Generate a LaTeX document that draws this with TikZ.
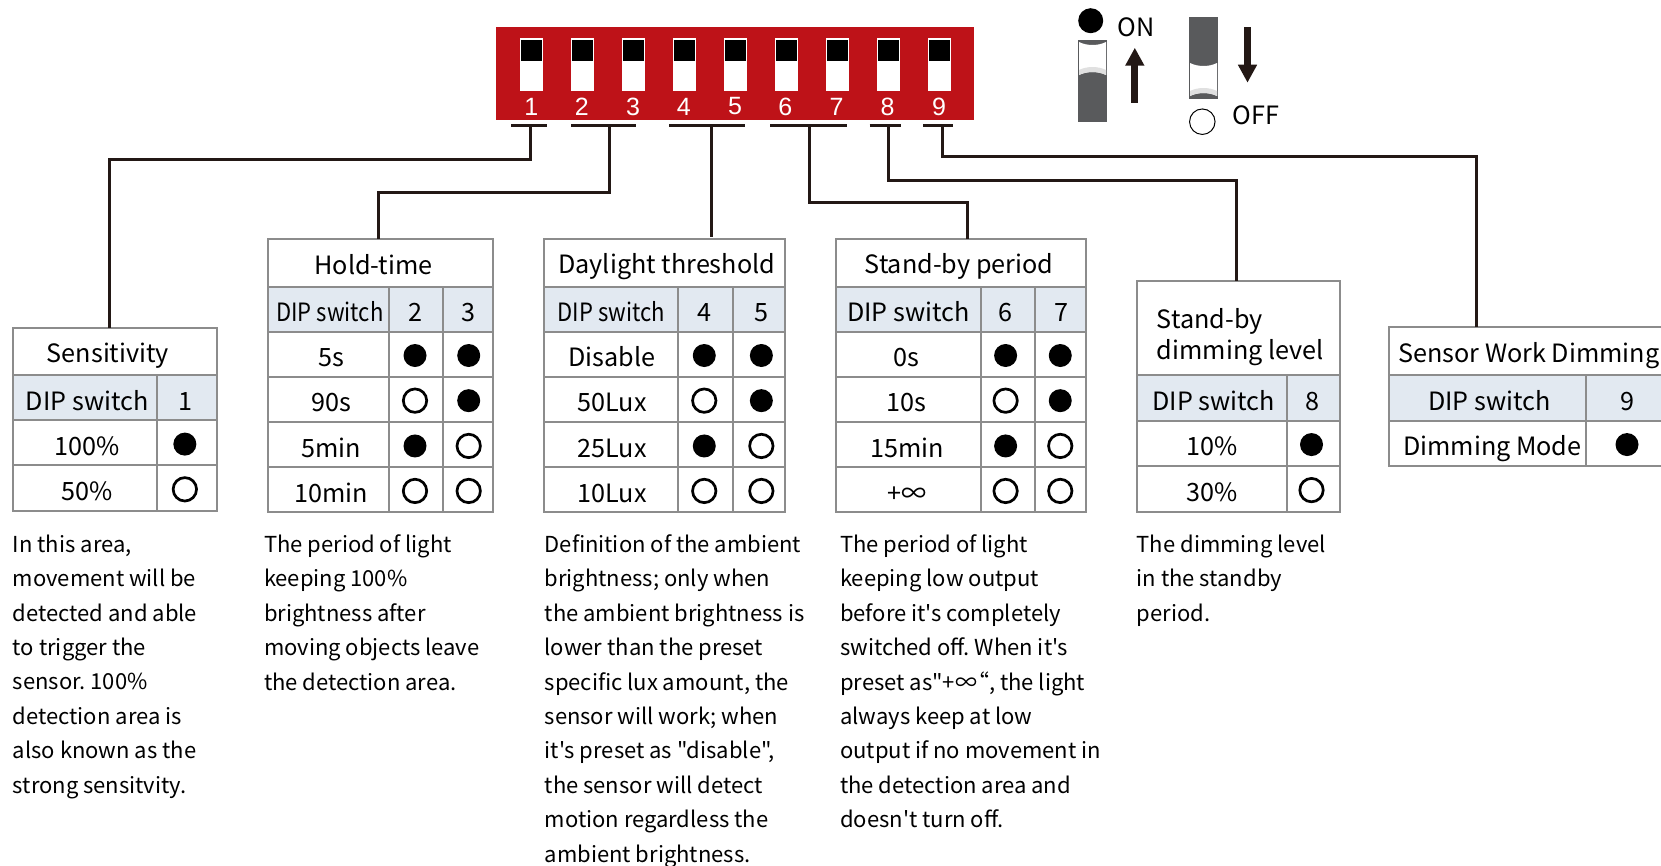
\documentclass[tikz,border=0pt]{standalone}
\usepackage{fontspec}
\setmainfont[Ligatures=TeXOff]{Noto Sans CJK SC}
\newfontfamily\digitfont{Liberation Sans}
\usetikzlibrary{arrows.meta}
\definecolor{dipred}{HTML}{BE1218}
\definecolor{dipgray}{HTML}{595A5C}
\definecolor{wirecol}{HTML}{231815}
\definecolor{gridcol}{HTML}{8C8C8C}
\definecolor{headcol}{HTML}{E2E9F1}
\tikzset{
	wire/.style={wirecol,line width=3pt},
	cellbox/.style={draw=gridcol,line width=2pt,inner sep=0pt,outer sep=0pt,text height=29pt,text depth=4pt,font=\fontsize{25.2}{30}\selectfont},
	headbox/.style={cellbox,fill=headcol},
	titlebox/.style={draw=gridcol,line width=2pt,inner sep=0pt,outer sep=0pt,align=left,font=\fontsize{25.2}{31.8}\selectfont},
	dipon/.style={circle,fill=black,inner sep=0pt,minimum size=23pt,yshift=-1.3pt},
	dipoff/.style={circle,draw=black,line width=2.7pt,inner sep=0pt,minimum size=23.4pt,yshift=-1.3pt},
	notetext/.style={anchor=north west,align=left,inner sep=0pt,font=\fontsize{22}{34.4}\selectfont\frenchspacing}
}
% name, style, left, right, top, bottom, text
\newcommand{\dipcell}[7]{\node[#2,minimum width=#4-#3,minimum height=#6-#5] (#1) at ({(#3+#4)/2},{(#5+#6)/2}) {#7};}
% slider knob: left, top
\newcommand{\dipknob}[2]{
	\begin{scope}[shift={(#1,#2)}]
		\fill[white] (0,0) .. controls (8,4) and (19,4) .. (27,0) -- (27,33) .. controls (19,29) and (8,29) .. (0,33) -- cycle;
		\fill[black!12] (0,28) .. controls (8,24) and (19,24) .. (27,28) -- (27,33) .. controls (19,29) and (8,29) .. (0,33) -- cycle;
	\end{scope}
}
\newcommand{\narrowdip}{\scalebox{0.875}[1]{DIP switch}}
\newcommand{\titlestrut}{\rule[-4pt]{0pt}{32pt}}
\begin{document}
\begin{tikzpicture}[x=1pt,y=-1pt]
	\useasboundingbox (0,0) rectangle (1661,865);
	\clip (0,0) rectangle (1661,865);
	% Red switch block
	\fill[dipred] (496,26.7) rectangle (974,120);
	\foreach \i/\swx/\numx in {1/520/531.2,2/571/581.7,3/622/633,4/673/683.7,5/724/735,6/775/785.2,7/826/836.5,8/877/887.5,9/928/939}{
		\fill[white] (\swx,38) rectangle ++(23,53);
		\fill[black] (\swx+0.8,40) rectangle ++(21.4,21);
		\node[white,inner sep=0pt,font=\digitfont\fontsize{25}{25}\selectfont] (num\i) at (\numx,106.5) {\i};
	}
	% Brackets under the switches
	\foreach \nm/\xa/\xb/\xc in {sens/511/546.7/530.7,hold/571/636/609,day/669/745.3/711.3,standby/770.3/846.7/809.7,dim/869.7/901.3/888,work/923/953.3/942.3}{
		\coordinate (brk\nm) at (\xc,125.7);
		\draw[wire] (\xa,125.7) -- (\xb,125.7);
	}
	% ON / OFF legend
	\fill[dipgray] (1078,40) rectangle (1106.7,121.7);
	\dipknob{1079}{42}
	\fill[dipgray] (1189,16.7) rectangle (1217.7,99);
	\dipknob{1190}{63}
	\node[dipon,minimum size=25pt,yshift=1.3pt] (ondot) at (1090.7,20.7) {};
	\node[dipoff,line width=1pt,minimum size=25.5pt,yshift=1.3pt] (offdot) at (1202.3,121.7) {};
	\node[font=\fontsize{25.2}{30}\selectfont,inner sep=0pt] (ontext) at (1136,27) {ON};
	\node[font=\fontsize{25.2}{30}\selectfont,inner sep=0pt] (offtext) at (1256,115) {OFF};
	\coordinate (upa) at (1134.8,102.7);
	\coordinate (upb) at (1134.8,47.7);
	\coordinate (downa) at (1247.5,27.3);
	\coordinate (downb) at (1247.5,82.7);
	\draw[-{Triangle[length=18pt,width=18pt]},wirecol,line width=7pt] (upa) -- (upb);
	\draw[-{Triangle[length=18pt,width=18pt]},wirecol,line width=7pt] (downa) -- (downb);
	% Sensitivity
	\dipcell{senstitle}{titlebox}{13.3}{216.7}{327.7}{375}{\titlestrut\hspace{-14pt}Sensitivity}
	\dipcell{senshead}{headbox}{13.3}{157}{375}{420.3}{\hspace{4pt}DIP switch}
	\dipcell{sensnum}{headbox}{157}{216.7}{375}{420.3}{\hspace{-2pt}1}
	\foreach \nm/\ya/\yb/\lab/\sa in {a/420.3/465.3/100\%/dipon,b/465.3/510.7/50\%/dipoff}{
		\dipcell{senslab\nm}{cellbox}{13.3}{157}{\ya}{\yb}{\hspace{4pt}\lab}
		\dipcell{sensval\nm}{cellbox}{157}{216.7}{\ya}{\yb}{}
		\node[\sa,xshift=-2pt] (sensdot\nm) at (sensval\nm) {};
	}
	% Hold-time
	\dipcell{holdtitle}{titlebox}{268.3}{492.7}{239}{286.7}{\titlestrut\hspace{-14pt}Hold-time}
	\dipcell{holdhead}{headbox}{268.3}{389.3}{286.7}{331.7}{\hspace{2pt}\narrowdip}
	\dipcell{holdnuma}{headbox}{389.3}{442.7}{286.7}{331.7}{\hspace{-2pt}2}
	\dipcell{holdnumb}{headbox}{442.7}{492.7}{286.7}{331.7}{\hspace{1pt}3}
	\foreach \nm/\ya/\yb/\lab/\sa/\sb in {a/331.7/376.7/5s/dipon/dipon,b/376.7/422/90s/dipoff/dipon,c/422/467.3/5min/dipon/dipoff,d/467.3/512/10min/dipoff/dipoff}{
		\dipcell{holdlab\nm}{cellbox}{268.3}{389.3}{\ya}{\yb}{\hspace{5pt}\lab}
		\dipcell{holdvala\nm}{cellbox}{389.3}{442.7}{\ya}{\yb}{}
		\dipcell{holdvalb\nm}{cellbox}{442.7}{492.7}{\ya}{\yb}{}
		\node[\sa,xshift=-1pt] (holddota\nm) at (holdvala\nm) {};
		\node[\sb,xshift=1pt] (holddotb\nm) at (holdvalb\nm) {};
	}
	% Daylight threshold
	\dipcell{daytitle}{titlebox}{544.2}{785.2}{239}{286.7}{\titlestrut\hspace{4pt}Daylight threshold}
	\dipcell{dayhead}{headbox}{544.2}{678}{286.7}{331.7}{\narrowdip}
	\dipcell{daynuma}{headbox}{678}{732.5}{286.7}{331.7}{\hspace{-2pt}4}
	\dipcell{daynumb}{headbox}{732.5}{785.2}{286.7}{331.7}{\hspace{6pt}5}
	\foreach \nm/\ya/\yb/\lab/\sa/\sb in {a/331.7/376.7/Disable/dipon/dipon,b/376.7/422/50Lux/dipoff/dipon,c/422/467.3/25Lux/dipon/dipoff,d/467.3/512/10Lux/dipoff/dipoff}{
		\dipcell{daylab\nm}{cellbox}{544.2}{678}{\ya}{\yb}{\hspace{2pt}\lab}
		\dipcell{dayvala\nm}{cellbox}{678}{732.5}{\ya}{\yb}{}
		\dipcell{dayvalb\nm}{cellbox}{732.5}{785.2}{\ya}{\yb}{}
		\node[\sa,xshift=-1pt] (daydota\nm) at (dayvala\nm) {};
		\node[\sb,xshift=2.5pt] (daydotb\nm) at (dayvalb\nm) {};
	}
	% Stand-by period
	\dipcell{standbytitle}{titlebox}{836}{1086}{239}{286.7}{\titlestrut\hspace{-4pt}Stand-by period}
	\dipcell{standbyhead}{headbox}{836}{980.7}{286.7}{331.7}{DIP switch}
	\dipcell{standbynuma}{headbox}{980.7}{1034.5}{286.7}{331.7}{\hspace{-4pt}6}
	\dipcell{standbynumb}{headbox}{1034.5}{1086}{286.7}{331.7}{\hspace{2pt}7}
	\foreach \nm/\ya/\yb/\lab/\sa/\sb in {a/331.7/376.7/0s/dipon/dipon,b/376.7/422/10s/dipoff/dipon,c/422/467.3/15min/dipon/dipoff,d/467.3/512/+∞/dipoff/dipoff}{
		\dipcell{standbylab\nm}{cellbox}{836}{980.7}{\ya}{\yb}{\hspace{-3pt}\lab}
		\dipcell{standbyvala\nm}{cellbox}{980.7}{1034.5}{\ya}{\yb}{}
		\dipcell{standbyvalb\nm}{cellbox}{1034.5}{1086}{\ya}{\yb}{}
		\node[\sa,xshift=-2pt] (standbydota\nm) at (standbyvala\nm) {};
		\node[\sb] (standbydotb\nm) at (standbyvalb\nm) {};
	}
	% Stand-by dimming level
	\dipcell{dimtitle}{titlebox}{1136.6}{1340}{281.4}{375}{\rule{0pt}{38pt}\hspace*{4pt}Stand-by\\\hspace*{4pt}dimming level}
	\dipcell{dimhead}{headbox}{1136.6}{1287}{375}{420.5}{\hspace{4pt}DIP switch}
	\dipcell{dimnum}{headbox}{1287}{1340}{375}{420.5}{\hspace{-2pt}8}
	\foreach \nm/\ya/\yb/\lab/\sa in {a/420.5/466/10\%/dipon,b/466/511.6/30\%/dipoff}{
		\dipcell{dimlab\nm}{cellbox}{1136.6}{1287}{\ya}{\yb}{\lab}
		\dipcell{dimval\nm}{cellbox}{1287}{1340}{\ya}{\yb}{}
		\node[\sa,xshift=-2pt] (dimdot\nm) at (dimval\nm) {};
	}
	% Sensor Work Dimming, runs off the right side
	\dipcell{worktitle}{titlebox}{1388.7}{1680}{327.3}{375}{\titlestrut\hspace{-11pt}Sensor Work Dimming}
	\dipcell{workhead}{headbox}{1388.7}{1586}{375}{420.5}{\hspace{4pt}DIP switch}
	\dipcell{worknum}{headbox}{1586}{1668}{375}{420.5}{9}
	\dipcell{worklab}{cellbox}{1388.7}{1586}{420.5}{466}{\hspace{10pt}Dimming Mode}
	\dipcell{workval}{cellbox}{1586}{1668}{420.5}{466}{}
	\node[dipon] (workdot) at (workval) {};
	% Wires from the brackets to the tables
	\coordinate (senstop) at (109.5,327.7);
	\coordinate (holdtop) at (378.3,239);
	\coordinate (daytop) at (711.3,236.7);
	\coordinate (standbytop) at (967.3,239);
	\coordinate (dimtop) at (1236.8,281.4);
	\coordinate (worktop) at (1476,327.3);
	\draw[wire] (brksens) -- ++(0,34) -| (senstop);
	\draw[wire] (brkhold) -- ++(0,66.3) -| (holdtop);
	\draw[wire] (brkday) -- (daytop);
	\draw[wire] (brkstandby) -- ++(0,76.6) -| (standbytop);
	\draw[wire] (brkdim) -- ++(0,54.6) -| (dimtop);
	\draw[wire] (brkwork) -- ++(0,30.3) -| (worktop);
	% Notes under the tables
	\node[notetext] (sensnote) at (12.7,534.5) {In this area,\\movement will be\\detected and able\\to trigger the\\sensor. 100\%\\detection area is\\also known as the\\strong sensitvity.};
	\node[notetext] (holdnote) at (263.8,534.5) {The period of light\\keeping 100\%\\brightness after\\moving objects leave\\the detection area.};
	\node[notetext] (daynote) at (544.5,534.5) {Definition of the ambient\\brightness; only when\\the ambient brightness is\\lower than the preset\\specific lux amount, the\\sensor will work; when\\it's preset as "disable",\\the sensor will detect\\motion regardless the\\ambient brightness.};
	\node[notetext] (standbynote) at (840,534.5) {The period of light\\keeping low output\\before it's completely\\switched off. When it's\\preset as"+∞\hspace{-10pt}“, the light\\always keep at low\\output if no movement in\\the detection area and\\doesn't turn off.};
	\node[notetext] (dimnote) at (1136.6,534.5) {The dimming level\\in the standby\\period.};
\end{tikzpicture}
\end{document}
